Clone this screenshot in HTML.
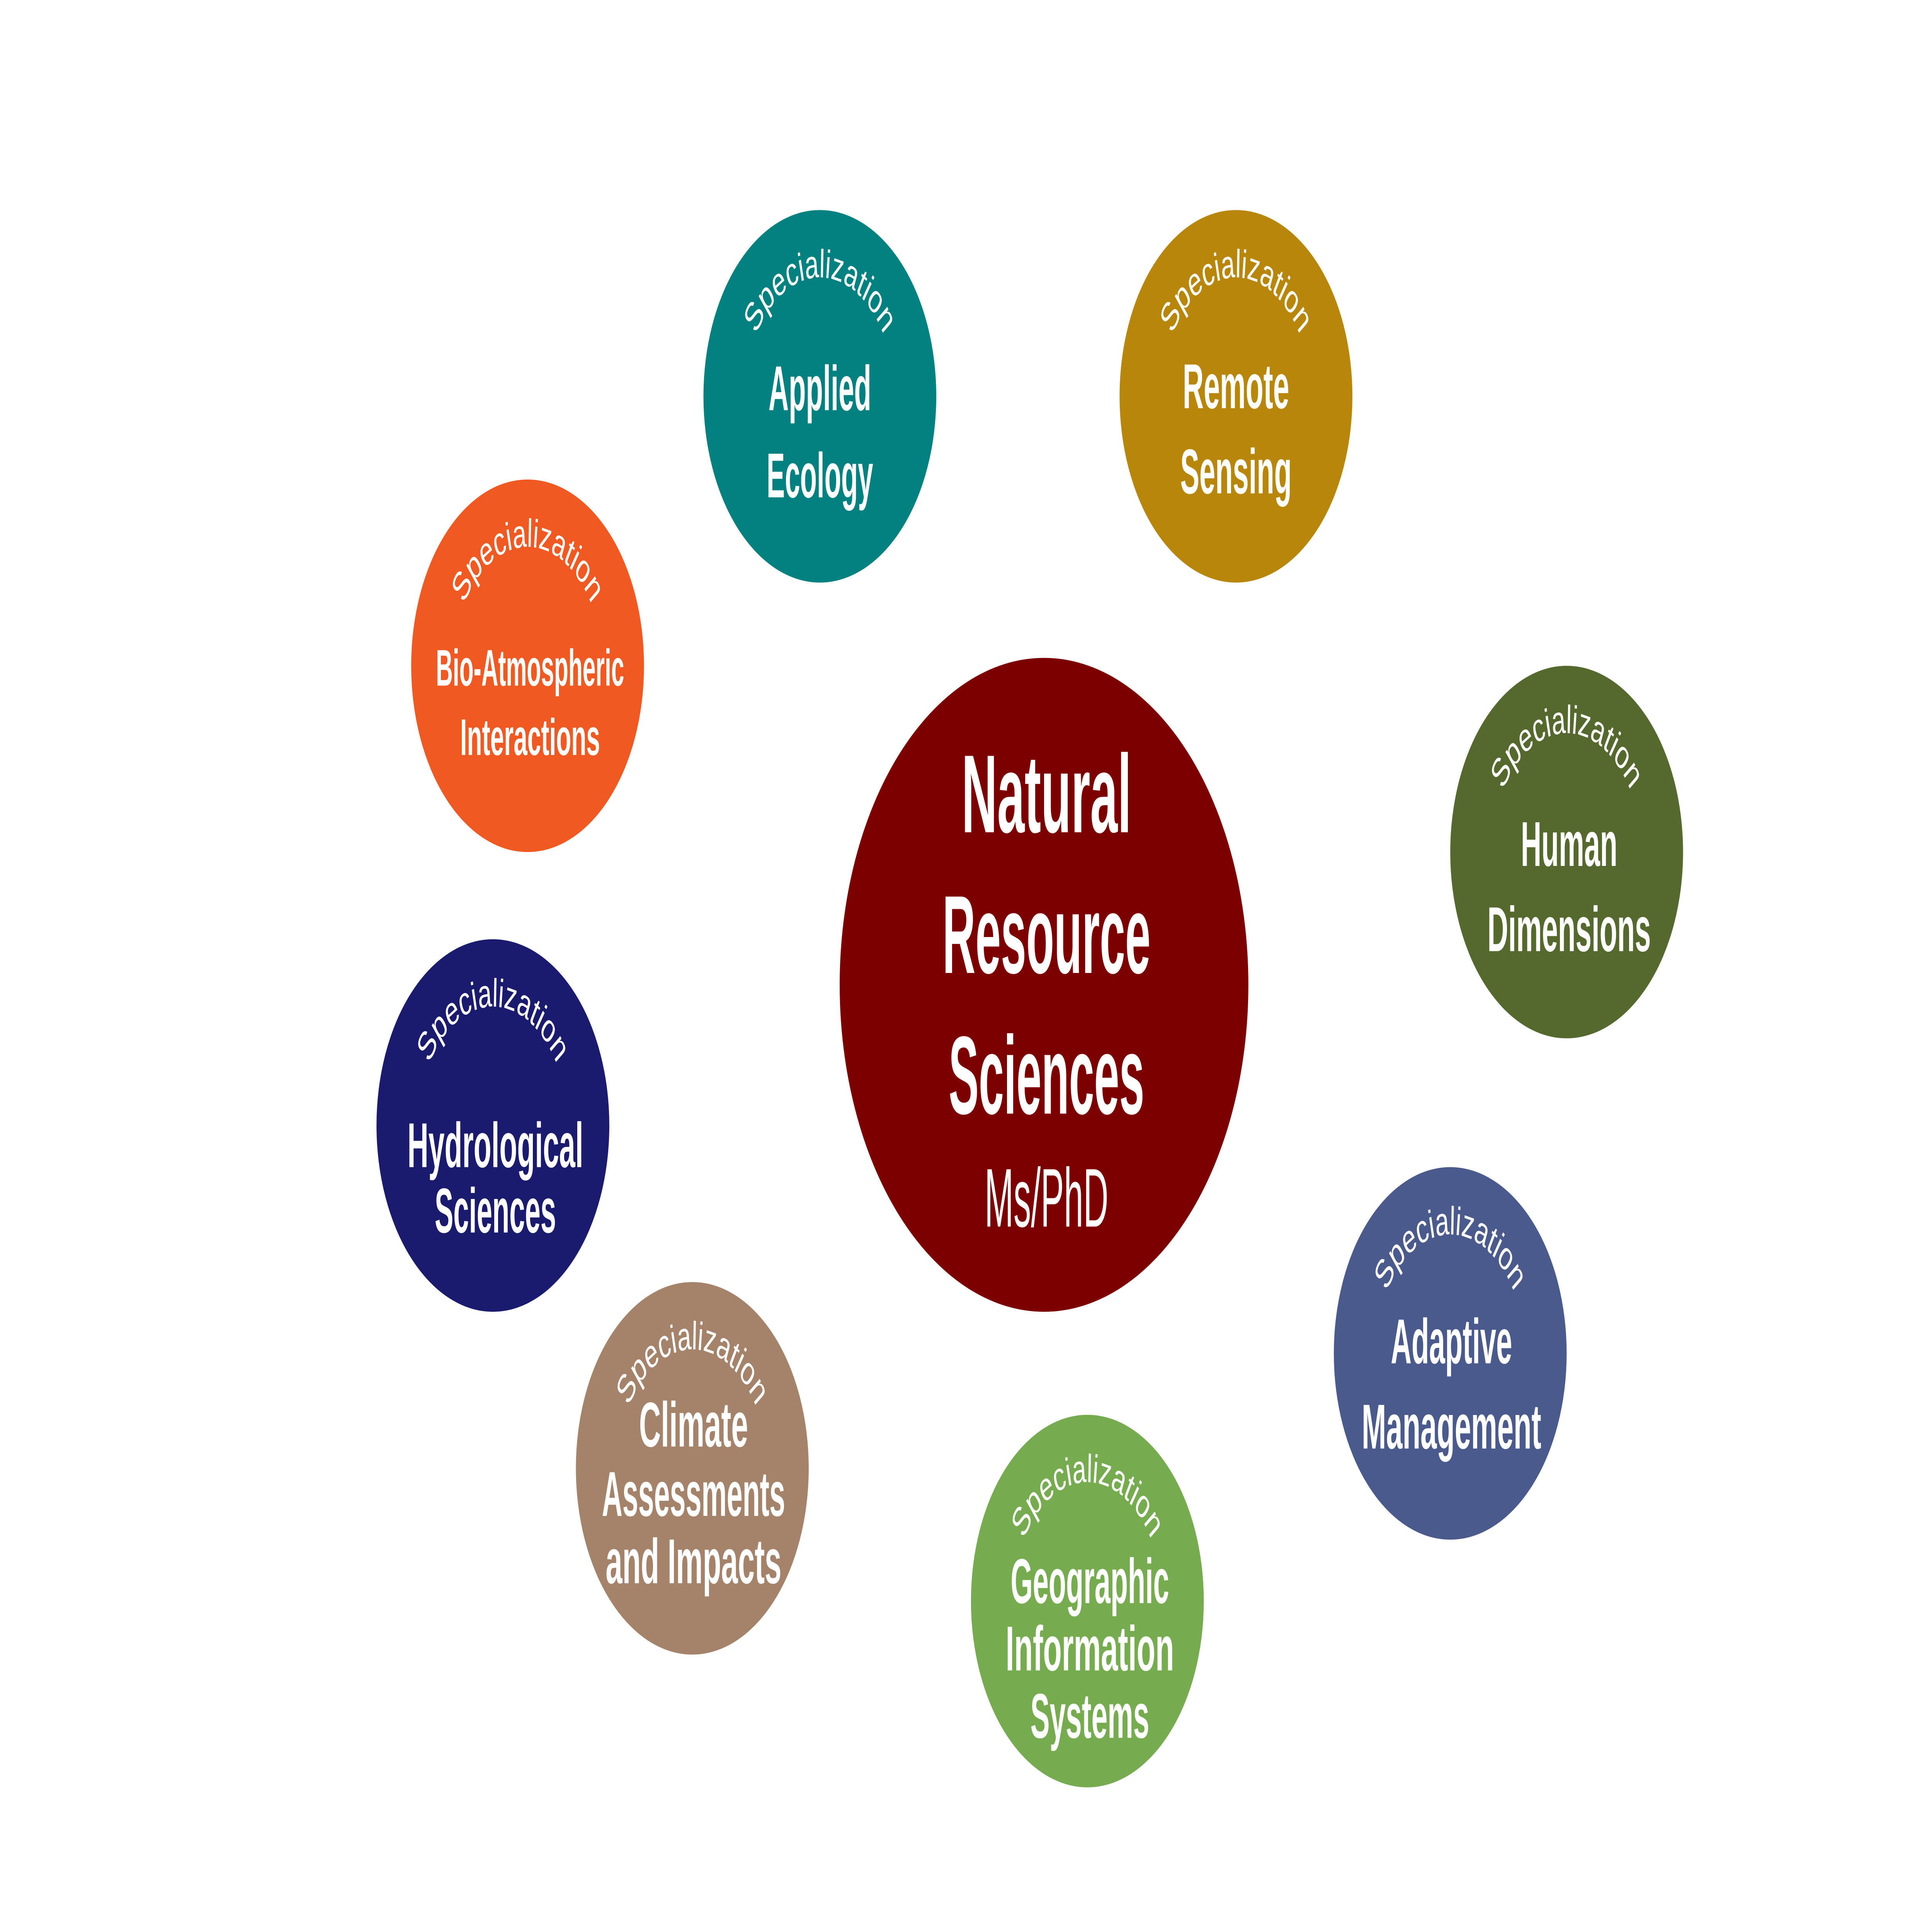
<!DOCTYPE html>
<html><head><meta charset="utf-8"><style>
html,body{margin:0;padding:0;background:#fff;width:100%;height:100%;overflow:hidden;}
svg{display:block;position:fixed;left:0;top:0;width:100vw;height:100vh;}
text{font-family:"Liberation Sans Narrow","Liberation Sans",sans-serif;fill:#fff;}
.t{font-weight:bold;}
</style></head><body>
<svg viewBox="0 0 1560 975" preserveAspectRatio="none" xmlns="http://www.w3.org/2000/svg">
<defs>
<path id="a1" d="M602,200 A60,60 0 0 1 722,200"/>
<path id="a2" d="M938,200 A60,60 0 0 1 1058,200"/>
<path id="a3" d="M366,336 A60,60 0 0 1 486,336"/>
<path id="a4" d="M1205,430 A60,60 0 0 1 1325,430"/>
<path id="a5" d="M338,568 A60,60 0 0 1 458,568"/>
<path id="a6" d="M1111,683 A60,60 0 0 1 1231,683"/>
<path id="a7" d="M499,741 A60,60 0 0 1 619,741"/>
<path id="a8" d="M818,808 A60,60 0 0 1 938,808"/>
</defs>
<circle cx="843" cy="497" r="165" fill="#7d0000"/>
<circle cx="662" cy="200" r="94" fill="#038080"/>
<circle cx="998" cy="200" r="94" fill="#b8860b"/>
<circle cx="426" cy="336" r="94" fill="#f05a22"/>
<circle cx="1265" cy="430" r="94" fill="#55682d"/>
<circle cx="398" cy="568" r="94" fill="#1a1a6e"/>
<circle cx="1171" cy="683" r="94" fill="#4a5a8c"/>
<circle cx="559" cy="741" r="94" fill="#a5836b"/>
<circle cx="878" cy="808" r="94" fill="#76ab4f"/>

<g text-anchor="middle">
<text class="t" x="845" y="420" style="font-size:56px" textLength="137" lengthAdjust="spacingAndGlyphs">Natural</text>
<text class="t" x="845" y="491" style="font-size:56px" textLength="168" lengthAdjust="spacingAndGlyphs">Resource</text>
<text class="t" x="845" y="562" style="font-size:56px" textLength="158" lengthAdjust="spacingAndGlyphs">Sciences</text>
<text x="845" y="619" style="font-size:42px" textLength="100" lengthAdjust="spacingAndGlyphs">Ms/PhD</text>

<g style="font-size:32px">
<text class="t" x="662" y="207" textLength="83" lengthAdjust="spacingAndGlyphs">Applied</text>
<text class="t" x="662" y="251" textLength="86" lengthAdjust="spacingAndGlyphs">Ecology</text>
<text class="t" x="998" y="206" textLength="86" lengthAdjust="spacingAndGlyphs">Remote</text>
<text class="t" x="998" y="249" textLength="90" lengthAdjust="spacingAndGlyphs">Sensing</text>
<text class="t" x="428" y="346" style="font-size:26px" textLength="152" lengthAdjust="spacingAndGlyphs">Bio-Atmospheric</text>
<text class="t" x="428" y="381" style="font-size:26px" textLength="113" lengthAdjust="spacingAndGlyphs">Interactions</text>
<text class="t" x="1267" y="437" textLength="78" lengthAdjust="spacingAndGlyphs">Human</text>
<text class="t" x="1267" y="480" textLength="132" lengthAdjust="spacingAndGlyphs">Dimensions</text>
<text class="t" x="400" y="589" textLength="142" lengthAdjust="spacingAndGlyphs">Hydrological</text>
<text class="t" x="400" y="622" textLength="98" lengthAdjust="spacingAndGlyphs">Sciences</text>
<text class="t" x="1172" y="688" textLength="98" lengthAdjust="spacingAndGlyphs">Adaptive</text>
<text class="t" x="1172" y="731" textLength="145" lengthAdjust="spacingAndGlyphs">Management</text>
<text class="t" x="560" y="730" textLength="88" lengthAdjust="spacingAndGlyphs">Climate</text>
<text class="t" x="560" y="765" textLength="148" lengthAdjust="spacingAndGlyphs">Assessments</text>
<text class="t" x="560" y="799" textLength="142" lengthAdjust="spacingAndGlyphs">and Impacts</text>
<text class="t" x="880" y="809" textLength="128" lengthAdjust="spacingAndGlyphs">Geographic</text>
<text class="t" x="880" y="843" textLength="136" lengthAdjust="spacingAndGlyphs">Information</text>
<text class="t" x="880" y="877" textLength="96" lengthAdjust="spacingAndGlyphs">Systems</text>
</g>

<g style="font-size:20px">
<text><textPath href="#a1" startOffset="50%">Specialization</textPath></text>
<text><textPath href="#a2" startOffset="50%">Specialization</textPath></text>
<text><textPath href="#a3" startOffset="50%">Specialization</textPath></text>
<text><textPath href="#a4" startOffset="50%">Specialization</textPath></text>
<text><textPath href="#a5" startOffset="50%">Specialization</textPath></text>
<text><textPath href="#a6" startOffset="50%">Specialization</textPath></text>
<text><textPath href="#a7" startOffset="50%">Specialization</textPath></text>
<text><textPath href="#a8" startOffset="50%">Specialization</textPath></text>
</g>
</g>
</svg>
</body></html>
